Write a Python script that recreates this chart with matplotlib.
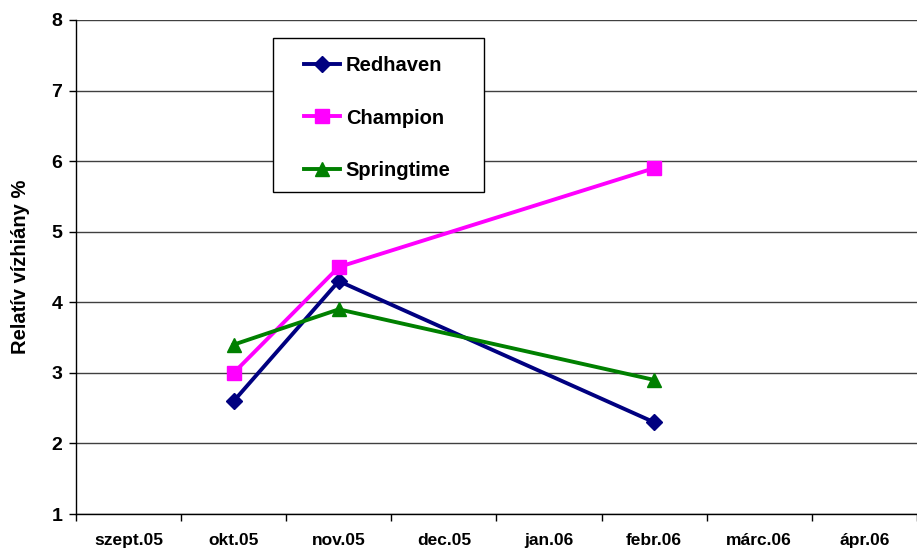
import matplotlib.pyplot as plt
from matplotlib.patches import Rectangle

months = ['szept.05', 'okt.05', 'nov.05', 'dec.05', 'jan.06', 'febr.06', 'márc.06', 'ápr.06']
x_idx = [1, 2, 5]  # okt, nov, febr
redhaven = [2.6, 4.3, 2.3]
champion = [3.0, 4.5, 5.9]
springtime = [3.4, 3.9, 2.9]

plt.rcParams['font.family'] = ['Liberation Sans', 'DejaVu Sans']
plt.rcParams['font.weight'] = 'bold'

fig = plt.figure(figsize=(9.17, 5.52), dpi=100)
ax = fig.add_axes([0.0829, 0.0688, 0.917, 0.895])

ax.plot(x_idx, redhaven, color='#000080', lw=2.8, marker='D', ms=8, label='Redhaven')
ax.plot(x_idx, champion, color='#FF00FF', lw=2.8, marker='s', ms=10, label='Champion')
ax.plot(x_idx, springtime, color='#008000', lw=2.8, marker='^', ms=10, label='Springtime')

ax.set_xlim(-0.5, 7.5)
ax.set_ylim(1, 8)
ax.set_yticks(range(1, 9))
ax.set_xticks(range(len(months)))
ax.set_xticklabels(months, fontsize=12.5, fontweight='bold')
ax.set_xticks([i - 0.5 for i in range(len(months) + 1)], minor=True)
ax.tick_params(axis='x', which='major', length=0, pad=14)
ax.tick_params(axis='x', which='minor', length=5, width=1, direction='out')
ax.tick_params(axis='y', labelsize=14, length=5, width=1, direction='out', pad=5)
for t in ax.get_yticklabels():
    t.set_fontweight('bold')

ax.yaxis.grid(True, color='#404040', lw=1)
ax.set_axisbelow(True)
for s in ['top', 'right']:
    ax.spines[s].set_visible(False)
ax.spines['left'].set_linewidth(1)
ax.spines['bottom'].set_linewidth(1)

ax.set_ylabel('Relatív vízhiány %', fontsize=14.5, fontweight='bold', labelpad=15)

# legend box drawn separately so the inner padding matches
box = Rectangle((273 / 917, 1 - 192 / 552), 211 / 917, 154 / 552, transform=fig.transFigure,
                facecolor='white', edgecolor='black', lw=1, zorder=5, clip_on=False)
ax.add_artist(box)
leg = ax.legend(loc='center', bbox_to_anchor=(275 / 917, 1 - 195 / 552, 205 / 917, 154 / 552),
                bbox_transform=fig.transFigure, frameon=False,
                prop={'size': 14.5, 'weight': 'bold'},
                handlelength=1.75, handletextpad=0.3, labelspacing=1.65, borderpad=0, borderaxespad=0)
leg.set_zorder(6)

fig.savefig('out.png', dpi=100)
